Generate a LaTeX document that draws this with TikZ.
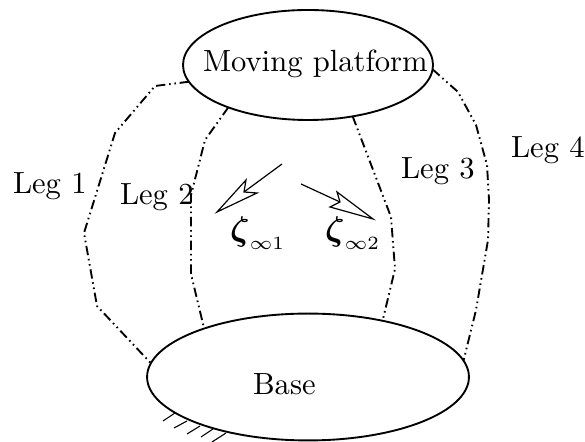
\documentclass[tikz,border=0pt]{standalone}
\usepackage{amsmath}
\usetikzlibrary{shapes.geometric}
\DeclareMathSizes{11}{11}{6.2}{5}
\tikzset{
  px/.style={x=0.32pt,y=-0.32pt},
  plate/.style={draw,ellipse,line width=0.6pt,inner sep=0pt,outer sep=0pt},
  leg/.style={line width=0.6pt,line join=round,dash pattern=on 3pt off 1.2pt on 0.5pt off 1.2pt on 0.5pt off 1.2pt},
  screw/.style={line width=0.38pt,fill=white,line join=miter},
  hatch/.style={line width=0.35pt},
  lbl/.style={anchor=base west,inner sep=0pt,outer sep=0pt,font=\fontsize{9.8}{11}\selectfont},
  mathlbl/.style={lbl,font=\fontsize{11}{12}\selectfont}
}
\begin{document}
\begin{tikzpicture}[px]
\useasboundingbox (0,0) rectangle (585,442);
% hatching under the base
\foreach \xa/\ya/\xb/\yb in {175/413/163/421,187/421/174/428,200/426/187/434,213/429/201/437,226/433/212/442}
  \draw[hatch] (\xa,\ya) -- (\xb,\yb);
\node[plate,minimum width=80pt,minimum height=35.2pt] (mp) at (308,65) {};
\node[plate,minimum width=103pt,minimum height=40.6pt] (base) at (308,377) {};
\node[lbl] (tmp) at (203,72) {Moving platform};
\node[lbl] (tbase) at (253,395) {Base};
\node[lbl] (l1) at (13,194) {Leg 1};
\node[lbl] (l2) at (120,205) {Leg 2};
\node[lbl] (l3) at (401,179) {Leg 3};
\node[lbl] (l4) at (511,158) {Leg 4};
\node[mathlbl] (z1) at (230,241) {$\boldsymbol{\zeta}_{\infty 1}$};
\node[mathlbl] (z2) at (325,241) {$\boldsymbol{\zeta}_{\infty 2}$};
% legs
\draw[leg] (mp.188.5) -- (155,86) -- (115,133) -- (84,233) -- (97,306) -- (base.175);
\draw[leg] (mp.208) -- (205,140) -- (191,195) -- (191,274) -- (base.155.6);
\draw[leg] (mp.311.5) -- (391,217) -- (395,269) -- (base.37.6);
\draw[leg] (mp.358) -- (458,92) -- (476,125) -- (487,165) -- (489,200) -- (488,240) -- (476,310) -- (base.6.3);
% screw arrows
\coordinate (a1s) at (282,164);
\coordinate (a1n) at (244,192);
\coordinate (a2s) at (301,184);
\coordinate (a2n) at (340,202);
\draw[screw] (a1s) -- (a1n);
\draw[screw] (217,212) -- (246,180) -- (a1n) -- (257,193) -- cycle;
\draw[screw] (a2s) -- (a2n);
\draw[screw] (373,219) -- (337,192) -- (a2n) -- (330,207) -- cycle;
\end{tikzpicture}
\end{document}
